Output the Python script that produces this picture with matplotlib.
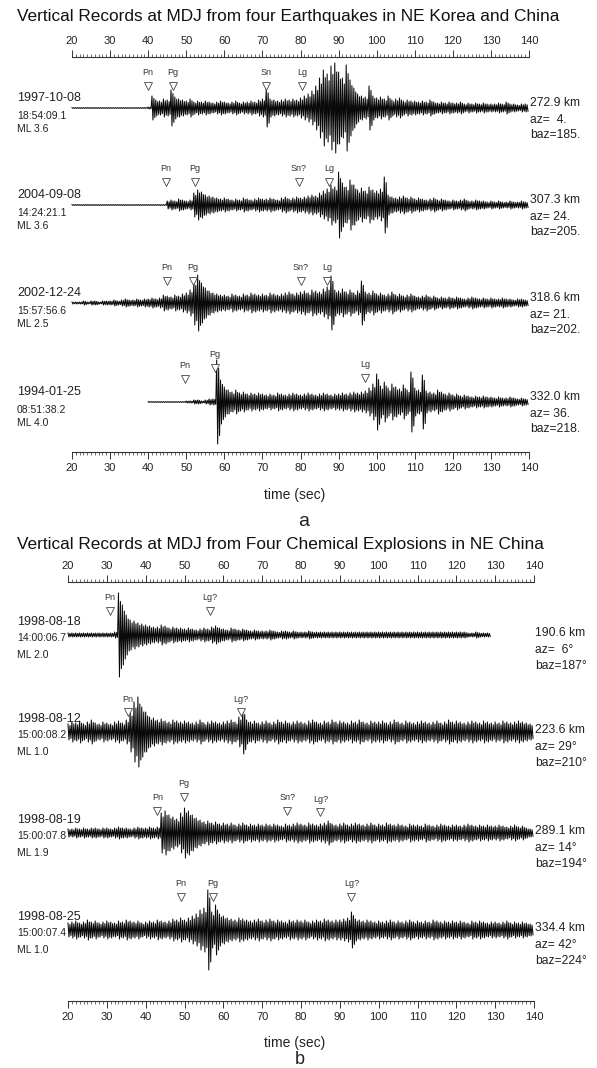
import numpy as np
import matplotlib
matplotlib.use("Agg")
import matplotlib.pyplot as plt
import matplotlib.transforms as mtransforms
from matplotlib.ticker import MultipleLocator

plt.rcParams['font.family'] = ['Liberation Sans', 'DejaVu Sans']

W, H = 597, 1068

# ---- data: envelope amplitude (px) per second ----
# panel a: earthquakes
start_a = [20, 20, 20, 40]
amp_a1 = [0, 0, 0, 0, 0, 0, 0, 0, 0, 0,
          0, 0, 0, 0, 0, 0, 0, 0, 0, 0,
          1, 12, 8, 7, 9, 8, 18, 11, 9, 8,
          7, 9, 6, 7, 6, 7, 6, 5, 6, 7,
          6, 5, 6, 7, 5, 6, 6, 7, 6, 8,
          9, 19, 9, 8, 7, 8, 9, 8, 9, 8,
          10, 12, 14, 17, 22, 30, 38, 34, 42, 45,
          36, 30, 43, 28, 20, 14, 12, 11, 22, 12,
          10, 11, 9, 12, 8, 9, 10, 7, 8, 7,
          7, 6, 7, 6, 8, 6, 5, 6, 5, 6,
          5, 5, 6, 4, 5, 4, 5, 4, 5, 4,
          4, 4, 5, 4, 6, 4, 4, 3, 4, 4]
amp_a2 = [0, 0, 0, 0, 0, 0, 0, 0, 0, 0,
          0, 0, 0, 0, 0, 0, 0, 0, 0, 0,
          0, 0, 0, 0, 0, 4, 5, 4, 6, 5,
          4, 5, 12, 15, 13, 10, 9, 8, 7, 6,
          7, 6, 5, 6, 5, 7, 6, 5, 6, 7,
          6, 6, 7, 6, 5, 7, 8, 6, 7, 8,
          7, 8, 9, 10, 9, 12, 14, 16, 20, 18,
          33, 22, 18, 25, 20, 15, 17, 14, 18, 15,
          14, 16, 28, 10, 8, 7, 8, 9, 7, 8,
          6, 7, 6, 5, 6, 7, 5, 6, 5, 4,
          5, 4, 5, 6, 4, 4, 5, 4, 4, 3,
          4, 3, 4, 3, 3, 4, 3, 3, 4, 3]
amp_a3 = [1, 1, 1, 2, 1, 2, 2, 1, 2, 2,
          2, 3, 2, 3, 4, 3, 3, 4, 3, 4,
          4, 5, 4, 5, 8, 7, 6, 8, 7, 9,
          10, 13, 22, 28, 20, 15, 12, 10, 9, 8,
          8, 7, 9, 8, 7, 9, 8, 10, 9, 8,
          9, 8, 10, 9, 8, 9, 10, 11, 9, 10,
          11, 12, 10, 13, 12, 11, 14, 16, 27, 13,
          12, 14, 11, 13, 10, 12, 22, 11, 10, 12,
          9, 10, 8, 9, 11, 8, 9, 7, 8, 9,
          7, 6, 7, 8, 6, 7, 5, 6, 5, 6,
          5, 6, 5, 4, 5, 6, 5, 4, 5, 4,
          5, 4, 4, 5, 4, 4, 3, 4, 4, 3]
amp_a4 = [0, 0, 0, 0, 0, 0, 0, 0, 0, 0,
          1, 1, 2, 2, 1, 2, 3, 3, 42, 22,
          15, 12, 10, 12, 9, 10, 8, 9, 8, 9,
          8, 7, 8, 7, 9, 8, 7, 8, 9, 8,
          7, 8, 9, 8, 7, 8, 9, 8, 7, 8,
          8, 9, 8, 9, 10, 9, 10, 11, 14, 18,
          28, 16, 20, 14, 18, 15, 13, 17, 12, 30,
          14, 12, 27, 11, 10, 9, 12, 10, 8, 9,
          7, 8, 6, 7, 6, 5, 6, 5, 6, 5,
          5, 4, 5, 4, 4, 5, 4, 3, 4, 3]

# panel b: chemical explosions
start_b = [20, 20, 20, 20]
amp_b1 = [2, 2, 2, 2, 2, 2, 2, 2, 2, 2,
          2, 2, 3, 42, 30, 20, 15, 14, 12, 11,
          10, 9, 8, 8, 10, 9, 7, 8, 7, 7,
          6, 7, 6, 5, 6, 7, 6, 8, 9, 7,
          6, 5, 7, 6, 5, 6, 5, 4, 5, 4,
          4, 4, 5, 4, 3, 4, 4, 3, 4, 3,
          3, 3, 4, 3, 3, 3, 3, 3, 3, 3,
          3, 3, 3, 3, 3, 3, 3, 3, 3, 3,
          3, 3, 3, 3, 3, 3, 3, 3, 3, 3,
          3, 3, 3, 3, 3, 3, 3, 3, 3, 3,
          3, 3, 3, 2, 2, 3, 2, 2, 2]
amp_b2 = [8, 10, 9, 11, 8, 10, 12, 9, 8, 10,
          9, 8, 10, 11, 9, 12, 20, 30, 35, 25,
          20, 15, 14, 12, 13, 11, 10, 12, 11, 10,
          11, 10, 9, 10, 12, 9, 10, 11, 10, 9,
          10, 11, 12, 10, 15, 22, 12, 10, 11, 9,
          10, 11, 9, 10, 12, 10, 11, 9, 10, 11,
          10, 9, 11, 12, 10, 9, 11, 10, 12, 10,
          11, 10, 9, 11, 10, 12, 10, 9, 11, 10,
          10, 11, 9, 10, 12, 10, 9, 11, 10, 9,
          10, 11, 10, 9, 10, 11, 9, 10, 12, 10,
          11, 10, 9, 10, 11, 10, 9, 11, 10, 9,
          10, 9, 11, 10, 9, 10, 11, 10, 9, 8]
amp_b3 = [4, 4, 5, 4, 5, 4, 5, 5, 4, 5,
          5, 4, 5, 6, 5, 5, 4, 5, 6, 5,
          5, 6, 5, 6, 20, 22, 18, 16, 14, 20,
          25, 22, 18, 15, 13, 11, 12, 10, 11, 9,
          10, 9, 10, 8, 9, 10, 8, 9, 8, 9,
          8, 9, 8, 9, 8, 7, 9, 8, 9, 10,
          9, 8, 10, 9, 8, 9, 10, 12, 9, 8,
          9, 10, 8, 9, 10, 9, 8, 9, 10, 8,
          9, 8, 10, 9, 8, 9, 8, 7, 9, 8,
          8, 7, 9, 8, 7, 8, 9, 8, 7, 8,
          8, 7, 8, 9, 8, 7, 8, 7, 8, 7,
          7, 8, 7, 6, 7, 8, 6, 7, 5, 4]
amp_b4 = [7, 8, 9, 7, 8, 10, 8, 9, 7, 8,
          9, 8, 7, 9, 8, 10, 9, 8, 9, 7,
          8, 9, 8, 10, 9, 8, 9, 11, 10, 12,
          10, 12, 14, 16, 20, 22, 40, 18, 25, 16,
          14, 12, 11, 10, 12, 11, 10, 9, 10, 11,
          9, 10, 11, 9, 10, 9, 8, 10, 9, 10,
          9, 10, 8, 9, 10, 9, 11, 10, 9, 10,
          10, 11, 12, 18, 11, 10, 9, 10, 9, 8,
          9, 8, 9, 10, 8, 9, 8, 9, 10, 8,
          9, 8, 9, 8, 10, 9, 8, 9, 8, 9,
          8, 9, 8, 7, 9, 8, 9, 8, 7, 8,
          8, 7, 8, 9, 7, 8, 7, 8, 7, 6]

dates_a = ["1997-10-08", "2004-09-08", "2002-12-24", "1994-01-25"]
times_a = ["18:54:09.1", "14:24:21.1", "15:57:56.6", "08:51:38.2"]
ml_a = ["ML 3.6", "ML 3.6", "ML 2.5", "ML 4.0"]
dist_a = ["272.9 km", "307.3 km", "318.6 km", "332.0 km"]
az_a = ["az=  4.", "az= 24.", "az= 21.", "az= 36."]
baz_a = ["baz=185.", "baz=205.", "baz=202.", "baz=218."]

dates_b = ["1998-08-18", "1998-08-12", "1998-08-19", "1998-08-25"]
times_b = ["14:00:06.7", "15:00:08.2", "15:00:07.8", "15:00:07.4"]
ml_b = ["ML 2.0", "ML 1.0", "ML 1.9", "ML 1.0"]
dist_b = ["190.6 km", "223.6 km", "289.1 km", "334.4 km"]
az_b = ["az=  6\u00b0", "az= 29\u00b0", "az= 14\u00b0", "az= 42\u00b0"]
baz_b = ["baz=187\u00b0", "baz=210\u00b0", "baz=194\u00b0", "baz=224\u00b0"]

# phase picks (name, time in sec)
picks_a = [[("Pn", 40.0), ("Pg", 46.5), ("Sn", 71.0), ("Lg", 80.5)],
           [("Pn", 44.6), ("Pg", 52.3), ("Sn?", 79.6), ("Lg", 87.5)],
           [("Pn", 45.0), ("Pg", 51.7), ("Sn?", 80.0), ("Lg", 87.0)],
           [("Pn", 49.7), ("Pg", 57.5), ("Lg", 97.0)]]
picks_b = [[("Pn", 30.8), ("Lg?", 56.6)],
           [("Pn", 35.5), ("Lg?", 64.5)],
           [("Pn", 43.0), ("Pg", 49.8), ("Sn?", 76.5), ("Lg?", 85.0)],
           [("Pn", 49.0), ("Pg", 57.4), ("Lg?", 93.0)]]

# ---- layout (pixel rows, top-left origin) ----
fig = plt.figure(figsize=(W / 100, H / 100), dpi=100)
TXT = "#222222"


def make_panel(x0, x1, y0, y1):
    ax = fig.add_axes([x0 / W, 1 - y1 / H, (x1 - x0) / W, (y1 - y0) / H])
    ax.set_xlim(20, 140)
    ax.set_ylim(y1, y0)  # y data == pixel row
    ax.patch.set_visible(False)
    for s in ["left", "right"]:
        ax.spines[s].set_visible(False)
    for s in ["top", "bottom"]:
        ax.spines[s].set_linewidth(0.8)
        ax.spines[s].set_color("#333333")
    ax.set_yticks([])
    ax.xaxis.set_major_locator(MultipleLocator(10))
    ax.xaxis.set_minor_locator(MultipleLocator(1))
    ax.tick_params(axis="x", which="both", top=True, bottom=True,
                   labeltop=True, labelbottom=True, direction="out",
                   colors="#333333", labelcolor=TXT, labelsize=8, pad=3)
    ax.tick_params(axis="x", which="major", length=5, width=0.7)
    ax.tick_params(axis="x", which="minor", length=2.5, width=0.5)
    return ax


def draw_trace(ax, t0, amp, base):
    # each second's envelope value drawn as a dense up/down wiggle
    a = np.maximum(np.asarray(amp, dtype=float), 0.4)
    t = t0 + np.arange(len(a))
    x = np.column_stack([t, t + 0.25, t + 0.5, t + 0.75]).ravel()
    y = np.column_stack([base - a, base + a, base - 0.8 * a,
                         base + 0.8 * a]).ravel()
    ax.plot(x, y, color="#0a0a0a", lw=0.75, clip_on=False)


def draw_picks(ax, picks, base, offs):
    for (name, tp), off in zip(picks, offs):
        ax.plot([tp], [base - off], marker="v", ms=6, mfc="white",
                mec="#444444", mew=0.6, ls="none", clip_on=False, zorder=3)
        ax.text(tp, base - off - 13, name, ha="center", va="center",
                fontsize=6.5, color="#333333", clip_on=False)


def side_labels(ax, base, left, right, loffs, roffs, xr):
    trl = mtransforms.blended_transform_factory(fig.transFigure, ax.transData)
    sizes = [9, 7.5, 7.5]
    for s, off, fs in zip(left, loffs, sizes):
        ax.text(17 / W, base + off, s, transform=trl, ha="left", va="center",
                fontsize=fs, color=TXT)
    for s, off in zip(right, roffs):
        ax.text(xr / W, base + off, s, transform=trl, ha="left", va="center",
                fontsize=8.7, color=TXT)


# ---------------- panel a ----------------
fig.text(17 / W, 1 - 17 / H,
         "Vertical Records at MDJ from four Earthquakes in NE Korea and China",
         ha="left", va="center", fontsize=12.4, color="#111111")
ax_a = make_panel(72, 529, 57, 452)
base_a = [108, 205, 303, 402]
amps_a = [amp_a1, amp_a2, amp_a3, amp_a4]
pick_off_a = [[22, 22, 22, 22], [23, 23, 23, 23], [22, 22, 22, 22],
              [23, 34, 24]]
for i in range(4):
    draw_trace(ax_a, start_a[i], amps_a[i], base_a[i])
    draw_picks(ax_a, picks_a[i], base_a[i], pick_off_a[i])
    side_labels(ax_a, base_a[i], [dates_a[i], times_a[i], ml_a[i]],
                [dist_a[i], az_a[i], baz_a[i]], [-10, 8, 21], [-5, 12, 27],
                530)
fig.text(295 / W, 1 - 495 / H, "time (sec)", ha="center", va="center",
         fontsize=10, color=TXT)
fig.text(304 / W, 1 - 521 / H, "a", ha="center", va="center",
         fontsize=14, color=TXT)

# ---------------- panel b ----------------
fig.text(17 / W, 1 - 545 / H,
         "Vertical Records at MDJ from Four Chemical Explosions in NE China",
         ha="left", va="center", fontsize=12.4, color="#111111")
ax_b = make_panel(68, 534, 582, 1001)
base_b = [635, 732, 833, 930]
amps_b = [amp_b1, amp_b2, amp_b3, amp_b4]
pick_off_b = [[24, 24], [20, 20], [22, 36, 22, 21], [33, 33, 33]]
for i in range(4):
    draw_trace(ax_b, start_b[i], amps_b[i], base_b[i])
    draw_picks(ax_b, picks_b[i], base_b[i], pick_off_b[i])
    side_labels(ax_b, base_b[i], [dates_b[i], times_b[i], ml_b[i]],
                [dist_b[i], az_b[i], baz_b[i]], [-13, 3, 20], [-2, 15, 31],
                535)
fig.text(295 / W, 1 - 1043 / H, "time (sec)", ha="center", va="center",
         fontsize=10, color=TXT)
fig.text(300 / W, 1 - 1059 / H, "b", ha="center", va="center",
         fontsize=13, color=TXT)

fig.savefig("out.png", dpi=100)
